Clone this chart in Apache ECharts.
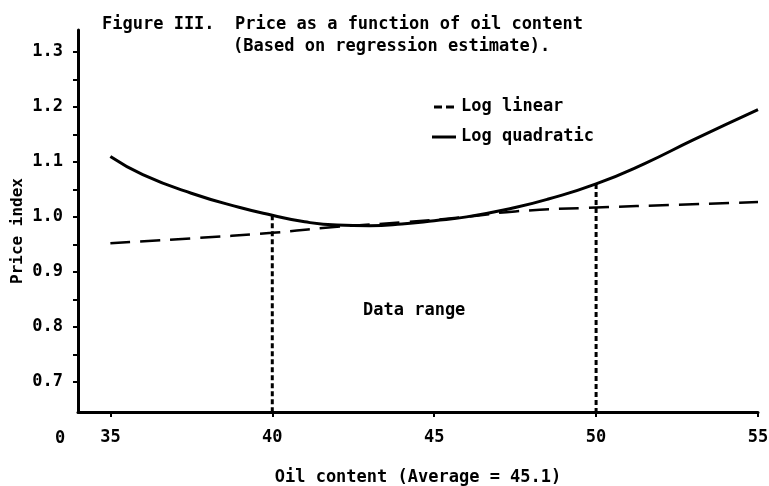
<!DOCTYPE html>
<html>
<head>
<meta charset="utf-8">
<script src="https://cdn.jsdelivr.net/npm/echarts@6/dist/echarts.min.js"></script>
<style>
  html, body { margin: 0; padding: 0; background: #fff; }
  #chart { width: 769px; height: 486px; }
</style>
</head>
<body>
<div id="chart"></div>
<script>
// 曲线数据
const quadX = [35, 36, 37.5, 39, 40, 41, 42, 43, 44, 45, 46, 47.5, 48.5, 50, 51.5, 53, 55]
const quadY = [1.11, 1.077, 1.043, 1.017, 1.003, 0.991, 0.985, 0.984, 0.987, 0.993, 1.0, 1.017, 1.032, 1.06, 1.097, 1.14, 1.195]
const linX = [35, 37.5, 40, 42, 44, 46, 47.5, 50, 52.5, 55]
const linY = [0.952, 0.961, 0.971, 0.982, 0.99, 1.0, 1.01, 1.017, 1.022, 1.027]

// 数据范围竖线
const rangeX = [40, 50]
const rangeTop = [1.003, 1.06]

// 刻度
const xTicks = [35, 40, 45, 50, 55]
const yLabels = [0.7, 0.8, 0.9, 1.0, 1.1, 1.2, 1.3]
const yTicks = [0.7, 0.75, 0.8, 0.85, 0.9, 0.95, 1.0, 1.05, 1.1, 1.15, 1.2, 1.25, 1.3]

const xMin = 34
const xMax = 55
const yMin = 0.645
const yMax = 1.34

const font = "DejaVu Sans Mono"
const zip = (xs, ys) => xs.map((x, i) => [x, ys[i]])

const chart = echarts.init(document.getElementById("chart"))

const rangeSeries = rangeX.map((x, i) => ({
  type: "line",
  data: [[x, rangeTop[i]], [x, yMin]],
  symbol: "none",
  silent: true,
  z: 1,
  lineStyle: { color: "#000", width: 3, type: [5, 3] },
}))

const option = {
  backgroundColor: "#fff",
  animation: false,
  title: [
    {
      text: "Figure III.  Price as a function of oil content",
      left: 102,
      top: 14,
      padding: 0,
      textStyle: { fontFamily: font, fontSize: 17, fontWeight: "bold", color: "#000", lineHeight: 22 },
    },
    {
      text: "(Based on regression estimate).",
      left: 233,
      top: 36,
      padding: 0,
      textStyle: { fontFamily: font, fontSize: 17, fontWeight: "bold", color: "#000", lineHeight: 22 },
    },
  ],
  // 图例：虚线 / 实线
  legend: {
    orient: "vertical",
    left: 432,
    top: 97,
    padding: 0,
    itemWidth: 24,
    itemHeight: 3,
    itemGap: 10,
    textStyle: { fontFamily: font, fontSize: 17, fontWeight: "bold", color: "#000", lineHeight: 20 },
    data: [
      { name: "Log linear", icon: "path://M0,0H8V3H0Z M12,0H20V3H12Z", itemStyle: { color: "#000" } },
      { name: "Log quadratic", icon: "path://M0,0H24V3H0Z", itemStyle: { color: "#000" } },
    ],
  },
  grid: {
    left: 78,
    right: 11,
    top: 30,
    bottom: 74,
    containLabel: false,
    outerBoundsMode: "none",
  },
  xAxis: {
    type: "value",
    min: xMin,
    max: xMax,
    name: "Oil content (Average = 45.1)",
    nameLocation: "middle",
    nameGap: 57,
    nameMoveOverlap: false,
    nameTextStyle: { fontFamily: font, fontSize: 17, fontWeight: "bold", color: "#000" },
    axisLine: { show: true, lineStyle: { color: "#000", width: 3 } },
    axisTick: { show: true, customValues: xTicks, length: 5, lineStyle: { color: "#000", width: 2 } },
    axisLabel: {
      customValues: xTicks,
      margin: 17,
      fontFamily: font,
      fontSize: 17,
      fontWeight: "bold",
      color: "#000",
    },
    splitLine: { show: false },
  },
  yAxis: {
    type: "value",
    min: yMin,
    max: yMax,
    name: "Price index",
    nameLocation: "middle",
    nameGap: 52,
    nameMoveOverlap: false,
    nameTextStyle: { fontFamily: font, fontSize: 16, fontWeight: "bold", color: "#000", padding: [0, 20, 0, 0] },
    axisLine: { show: true, lineStyle: { color: "#000", width: 3 } },
    axisTick: { show: true, customValues: yTicks, length: 5, lineStyle: { color: "#000", width: 2 } },
    axisLabel: {
      customValues: yLabels,
      margin: 15,
      formatter: (v) => v.toFixed(1),
      fontFamily: font,
      fontSize: 17,
      fontWeight: "bold",
      color: "#000",
    },
    splitLine: { show: false },
  },
  graphic: [
    {
      type: "text",
      left: 363,
      top: 302,
      style: { text: "Data range", fontFamily: font, fontSize: 17, fontWeight: "bold", fill: "#000" },
    },
    {
      type: "text",
      left: 55,
      top: 430,
      style: { text: "0", fontFamily: font, fontSize: 17, fontWeight: "bold", fill: "#000" },
    },
  ],
  series: [
    ...rangeSeries,
    {
      name: "Log linear",
      type: "line",
      data: zip(linX, linY),
      smooth: true,
      symbol: "none",
      z: 2,
      lineStyle: { color: "#000", width: 2.5, type: [20, 10] },
      itemStyle: { color: "#000" },
    },
    {
      name: "Log quadratic",
      type: "line",
      data: zip(quadX, quadY),
      smooth: true,
      symbol: "none",
      z: 3,
      lineStyle: { color: "#000", width: 3 },
      itemStyle: { color: "#000" },
    },
  ],
}

chart.setOption(option)
</script>
</body>
</html>
